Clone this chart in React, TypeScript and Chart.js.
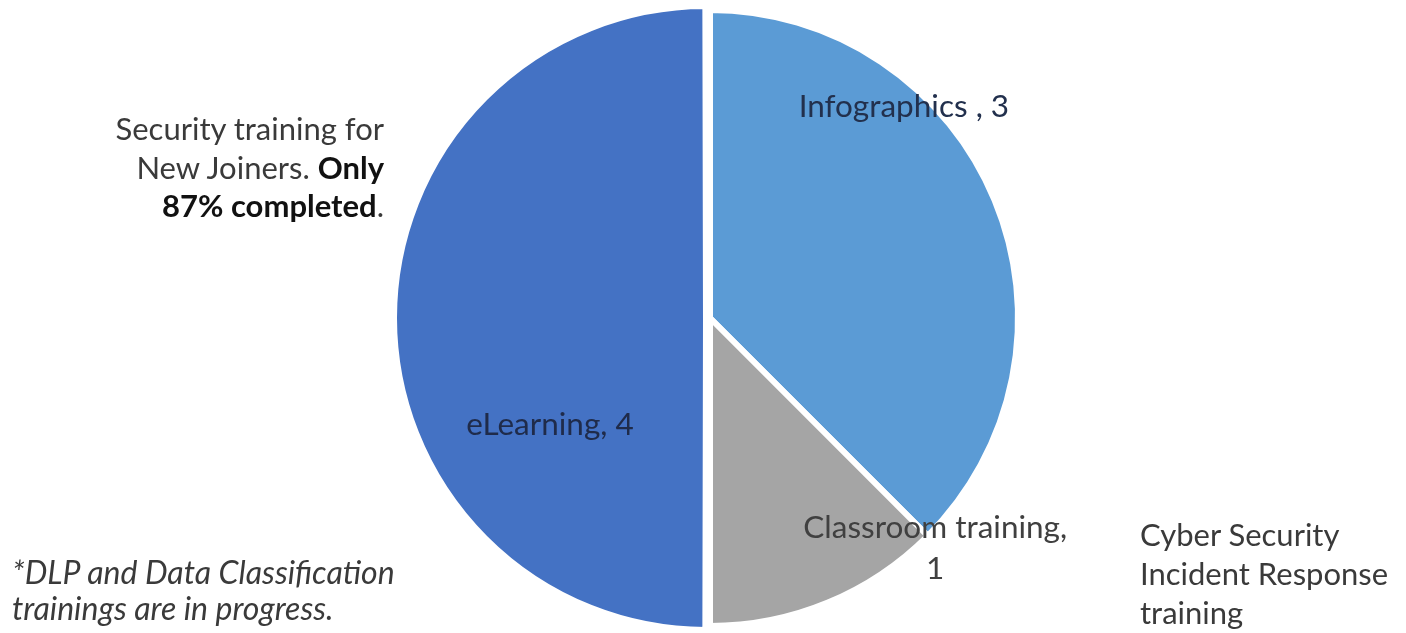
import React, { useEffect, useRef } from "react";
import { Chart, registerables } from "chart.js";

Chart.register(...registerables);

// ---- data ----
const categories = ["Infographics ", "Classroom training", "eLearning"];
const values = [3, 1, 4];
const sliceColors = ["#5B9BD5", "#A5A5A5", "#4472C4"];
const sliceOffsets = [0, 0, 16];
const labelBreakAfterComma = [false, true, false];
const labelColors = ["#22304d", "#404040", "#1f2b4a"];

const FONT = "Lato, 'Noto Sans', sans-serif";

// label placement relative to each arc (angle in degrees, fraction of radius)
const labelPlacement = [
  { angle: -47.4, r: 0.93 },
  { angle: 45.6, r: 1.045 },
  { angle: 146.2, r: 0.625 },
];

const sliceLabelPlugin = {
  id: "sliceLabels",
  afterDatasetsDraw(chart: any) {
    const ctx = chart.ctx as CanvasRenderingContext2D;
    const meta = chart.getDatasetMeta(0);
    meta.data.forEach((arc: any, i: number) => {
      const { x, y, outerRadius } = arc.getProps(["x", "y", "outerRadius"], true);
      const p = labelPlacement[i];
      const a = (p.angle * Math.PI) / 180;
      const cx = x + Math.cos(a) * outerRadius * p.r;
      const cy = y + Math.sin(a) * outerRadius * p.r;
      const lines = labelBreakAfterComma[i]
        ? [categories[i] + ",", String(values[i])]
        : [categories[i] + ", " + values[i]];
      const lh = 41;
      ctx.save();
      ctx.font = `31.5px ${FONT}`;
      ctx.fillStyle = labelColors[i];
      ctx.textAlign = "center";
      ctx.textBaseline = "middle";
      lines.forEach((ln, j) => {
        ctx.fillText(ln, cx, cy + (j - (lines.length - 1) / 2) * lh);
      });
      ctx.restore();
    });
  },
};

export default function App() {
  const ref = useRef<HTMLCanvasElement | null>(null);

  useEffect(() => {
    if (!ref.current) return;
    const chart = new Chart(ref.current, {
      type: "pie",
      data: {
        labels: categories,
        datasets: [
          {
            data: values,
            backgroundColor: sliceColors,
            borderColor: "#ffffff",
            borderWidth: 6,
            offset: sliceOffsets,
          },
        ],
      },
      options: {
        responsive: false,
        animation: false,
        devicePixelRatio: 1,
        radius: 308,
        layout: { padding: { left: 400, right: 386, top: 3, bottom: 0 } },
        plugins: {
          legend: { display: false },
          tooltip: { enabled: false },
        },
        events: [],
      } as any,
      plugins: [sliceLabelPlugin as any],
    });
    return () => chart.destroy();
  }, []);

  const textBase: React.CSSProperties = {
    position: "absolute",
    fontFamily: FONT,
    fontSize: 31,
    color: "#3a3a3a",
    whiteSpace: "nowrap",
  };

  return (
    <div style={{ position: "absolute", left: 0, top: 0, width: 1406, height: 633, background: "#ffffff", overflow: "hidden" }}>
      <canvas ref={ref} width={1406} height={633} style={{ position: "absolute", left: 0, top: 0 }} />
      <div style={{ ...textBase, left: 0, width: 384, top: 109, lineHeight: "38.5px", textAlign: "right" }}>
        Security training for
        <br />
        New Joiners. <b style={{ color: "#111" }}>Only</b>
        <br />
        <b style={{ color: "#111" }}>87% completed</b>.
      </div>
      <div style={{ ...textBase, left: 1140, top: 515, lineHeight: "39px" }}>
        Cyber Security
        <br />
        Incident Response
        <br />
        training
      </div>
      <div style={{ ...textBase, left: 12, top: 554, lineHeight: "36px", fontStyle: "italic", fontSize: 32 }}>
        *DLP and Data Classification
        <br />
        trainings are in progress.
      </div>
    </div>
  );
}
